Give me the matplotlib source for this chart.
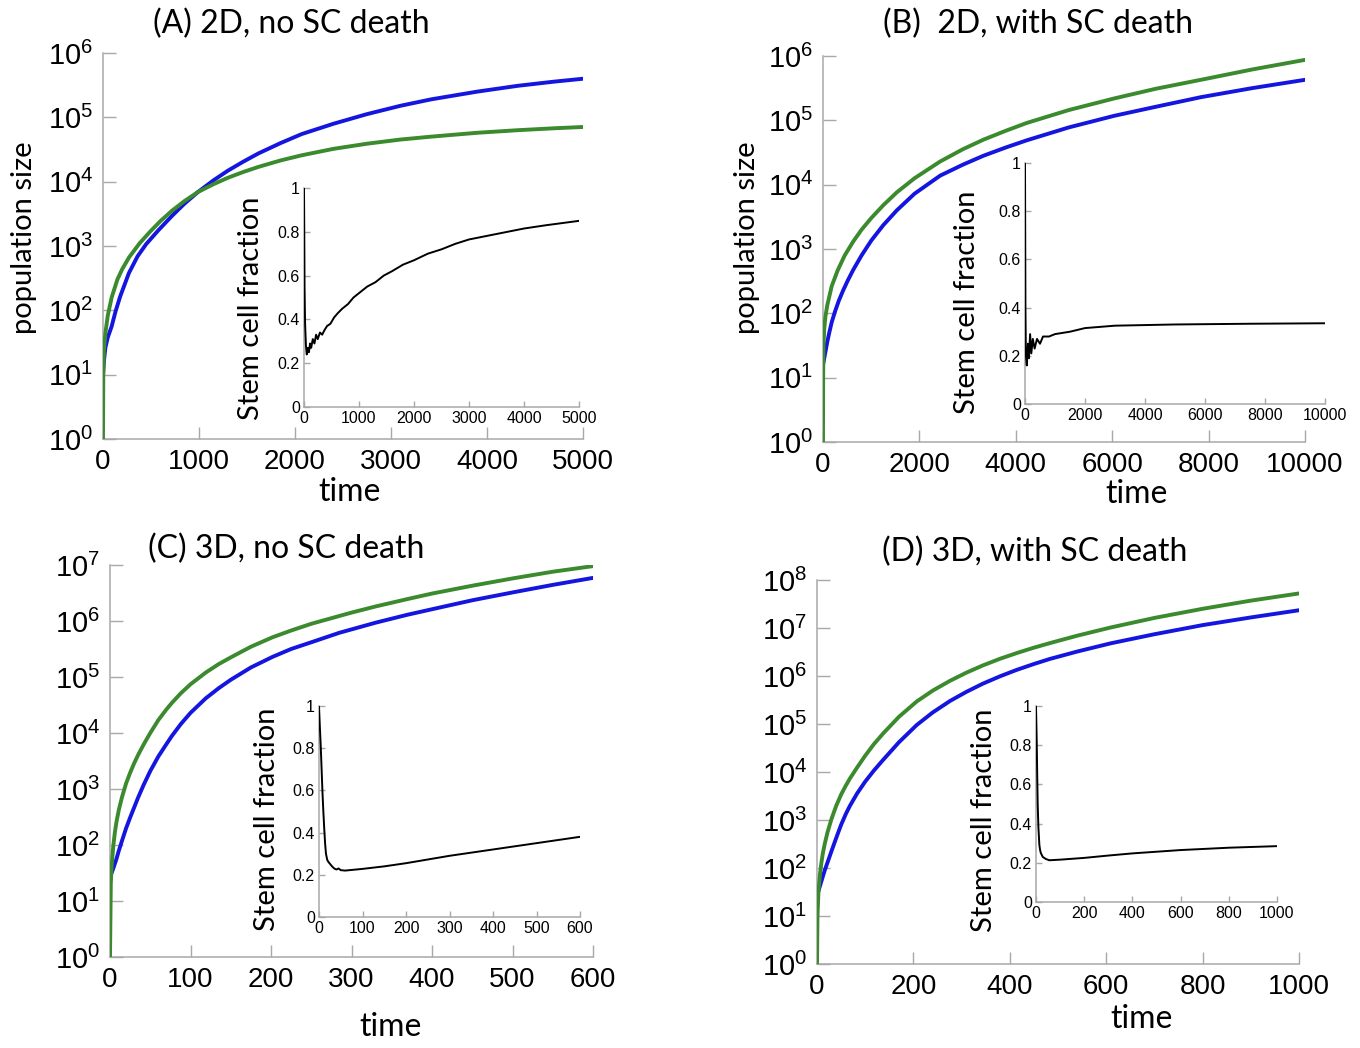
import numpy as np
import matplotlib
matplotlib.use("Agg")
import matplotlib.pyplot as plt
from matplotlib.ticker import FixedLocator, NullLocator, LogFormatterMathtext, FixedFormatter

plt.rcParams['font.family'] = ['Liberation Sans', 'DejaVu Sans']
plt.rcParams['mathtext.fontset'] = 'custom'
plt.rcParams['mathtext.rm'] = 'Liberation Sans'
plt.rcParams['mathtext.it'] = 'Liberation Sans:italic'
plt.rcParams['mathtext.bf'] = 'Liberation Sans:bold'

# ---------------- data ----------------
# Population sizes are given as log10 of the cell count (decades on the log axis).

# (A) 2D, no stem-cell death
a_stem_time = [0, 10, 25, 50, 90, 130, 180, 270, 360, 450, 580, 720, 850, 990, 1150, 1300, 1460,
               1620, 1850, 2070, 2400, 2750, 3100, 3420, 3900, 4320, 4700, 5000]
a_stem_log10 = [1.0, 1.22, 1.42, 1.58, 1.75, 1.98, 2.22, 2.58, 2.84, 3.03, 3.25, 3.47, 3.66, 3.84,
                4.02, 4.17, 4.31, 4.44, 4.6, 4.74, 4.9, 5.05, 5.18, 5.28, 5.4, 5.49, 5.555, 5.6]
a_diff_time = [0, 3, 10, 25, 50, 90, 150, 200, 270, 380, 495, 600, 720, 850, 990, 1150, 1300, 1460,
               1620, 1850, 2070, 2400, 2750, 3100, 3420, 3900, 4320, 4700, 5000]
a_diff_log10 = [0.0, 1.0, 1.38, 1.65, 1.92, 2.2, 2.48, 2.64, 2.82, 3.04, 3.23, 3.39, 3.55, 3.7, 3.84,
                3.96, 4.06, 4.15, 4.23, 4.33, 4.41, 4.51, 4.59, 4.655, 4.70, 4.76, 4.80, 4.83, 4.85]
a_frac_time = [0, 5, 10, 20, 35, 50, 70, 90, 110, 130, 160, 190, 220, 250, 290, 330, 370, 420, 480,
               550, 620, 700, 800, 900, 1000, 1150, 1300, 1450, 1600, 1800, 2000, 2250, 2500, 2750,
               3000, 3300, 3600, 4000, 4400, 4700, 5000]
a_frac = [1.0, 0.8, 0.55, 0.38, 0.28, 0.24, 0.27, 0.25, 0.29, 0.27, 0.31, 0.29, 0.33, 0.31, 0.34,
          0.33, 0.35, 0.37, 0.38, 0.41, 0.43, 0.45, 0.47, 0.50, 0.52, 0.55, 0.57, 0.60, 0.62, 0.65,
          0.67, 0.70, 0.72, 0.745, 0.765, 0.78, 0.795, 0.815, 0.83, 0.84, 0.85]

# (B) 2D, with stem-cell death
b_stem_time = [0, 20, 50, 90, 130, 180, 250, 330, 420, 520, 630, 800, 1000, 1250, 1530, 1900, 2430,
               2900, 3330, 3800, 4230, 5100, 6040, 6900, 7840, 8900, 10000]
b_stem_log10 = [1.2, 1.28, 1.4, 1.56, 1.7, 1.86, 2.03, 2.2, 2.36, 2.52, 2.68, 2.9, 3.13, 3.37, 3.6,
                3.86, 4.14, 4.31, 4.45, 4.58, 4.69, 4.89, 5.07, 5.21, 5.36, 5.5, 5.63]
b_diff_time = [0, 3, 10, 25, 50, 90, 180, 300, 450, 630, 800, 1000, 1250, 1530, 1900, 2430, 2900,
               3330, 3800, 4230, 5100, 6040, 6900, 7840, 8900, 10000]
b_diff_log10 = [0.0, 1.0, 1.5, 1.75, 1.95, 2.13, 2.42, 2.66, 2.9, 3.12, 3.3, 3.48, 3.68, 3.88, 4.1,
                4.36, 4.55, 4.7, 4.84, 4.96, 5.16, 5.34, 5.49, 5.63, 5.79, 5.94]
b_frac_time = [0, 15, 30, 60, 100, 130, 170, 210, 260, 320, 400, 500, 600, 800, 1000, 1500, 2000,
               3000, 5000, 7500, 10000]
b_frac = [1.0, 0.4, 0.2, 0.16, 0.25, 0.19, 0.29, 0.21, 0.27, 0.23, 0.27, 0.25, 0.28, 0.28, 0.29,
          0.30, 0.315, 0.325, 0.33, 0.333, 0.335]

# (C) 3D, no stem-cell death
c_stem_time = [0, 2, 4, 8, 11, 15, 20, 25, 30, 35, 42, 50, 60, 70, 77, 88, 100, 119, 135, 150, 175,
               202, 225, 250, 285, 300, 330, 369, 400, 450, 500, 550, 600]
c_stem_log10 = [1.45, 1.5, 1.58, 1.75, 1.9, 2.08, 2.3, 2.49, 2.67, 2.85, 3.08, 3.32, 3.58, 3.8, 3.95,
                4.16, 4.36, 4.62, 4.8, 4.95, 5.17, 5.36, 5.5, 5.62, 5.79, 5.85, 5.97, 6.11, 6.21,
                6.37, 6.51, 6.645, 6.77]
c_diff_time = [0, 1, 2, 4, 6, 8, 11, 15, 20, 25, 30, 35, 42, 50, 60, 70, 77, 88, 100, 119, 135, 150,
               175, 202, 225, 250, 285, 300, 330, 369, 400, 450, 500, 550, 600]
c_diff_log10 = [0.0, 1.31, 1.61, 1.97, 2.22, 2.41, 2.63, 2.86, 3.10, 3.29, 3.46, 3.61, 3.80, 4.0,
                4.23, 4.42, 4.54, 4.71, 4.87, 5.08, 5.23, 5.35, 5.54, 5.71, 5.83, 5.95, 6.09, 6.15,
                6.26, 6.39, 6.49, 6.63, 6.76, 6.88, 6.98]
c_frac_time = [0, 2, 4, 6, 8, 10, 12, 14, 16, 19, 22, 26, 30, 35, 40, 45, 50, 60, 80, 100, 150, 200,
               300, 400, 500, 600]
c_frac = [1.0, 0.9, 0.81, 0.7, 0.59, 0.5, 0.42, 0.35, 0.30, 0.27, 0.26, 0.25, 0.24, 0.23, 0.225,
          0.23, 0.222, 0.22, 0.224, 0.228, 0.24, 0.255, 0.29, 0.32, 0.35, 0.38]

# (D) 3D, with stem-cell death
d_stem_time = [0, 3, 6, 9, 12, 16, 22, 30, 40, 50, 60, 68, 83, 100, 118, 137, 170, 207, 240, 276,
               310, 344, 380, 415, 450, 483, 540, 609, 700, 800, 900, 1000]
d_stem_log10 = [1.44, 1.52, 1.62, 1.72, 1.82, 1.95, 2.12, 2.35, 2.63, 2.9, 3.13, 3.29, 3.55, 3.8,
                4.03, 4.25, 4.62, 4.98, 5.24, 5.48, 5.67, 5.84, 5.995, 6.13, 6.25, 6.355, 6.51,
                6.68, 6.87, 7.06, 7.22, 7.37]
d_diff_time = [0, 1, 3, 6, 9, 12, 16, 22, 30, 40, 50, 60, 68, 83, 100, 118, 137, 170, 207, 240, 276,
               310, 344, 380, 415, 450, 483, 540, 609, 700, 800, 900, 1000]
d_diff_log10 = [0.0, 1.0, 1.5, 1.85, 2.1, 2.3, 2.5, 2.75, 3.02, 3.30, 3.53, 3.72, 3.86, 4.09, 4.34,
                4.58, 4.8, 5.15, 5.47, 5.695, 5.90, 6.07, 6.22, 6.36, 6.48, 6.59, 6.685, 6.84, 7.01,
                7.21, 7.40, 7.57, 7.72]
d_frac_time = [0, 2, 3, 5, 7, 10, 14, 17, 20, 28, 40, 55, 70, 100, 200, 300, 400, 600, 800, 1000]
d_frac = [1.0, 0.88, 0.82, 0.65, 0.5, 0.38, 0.29, 0.265, 0.25, 0.23, 0.22, 0.213, 0.214, 0.216,
          0.225, 0.237, 0.248, 0.265, 0.277, 0.285]

titles = ["(A) 2D, no SC death", "(B)  2D, with SC death", "(C) 3D, no SC death", "(D) 3D, with SC death"]
x_ticks = [[0, 1000, 2000, 3000, 4000, 5000],
           [0, 2000, 4000, 6000, 8000, 10000],
           [0, 100, 200, 300, 400, 500, 600],
           [0, 200, 400, 600, 800, 1000]]
y_decades = [6, 6, 7, 8]
frac_ticks = [0, 0.2, 0.4, 0.6, 0.8, 1]
frac_tick_labels = ["0", "0.2", "0.4", "0.6", "0.8", "1"]

# ---------------- layout (pixel boxes: left, top, right, bottom) ----------------
W, H = 1360, 1048
main_boxes = [(103, 53, 583, 439), (823, 56, 1305, 442), (110, 565, 593, 957), (817, 580, 1299, 964)]
inset_boxes = [(304, 188, 579, 407), (1025, 163, 1325, 404), (319, 706, 580, 917), (1036, 706, 1277, 902)]
title_pos = [(291, 24), (1038, 24), (286, 549), (1035, 552)]
time_pos = [(350, 492), (1137, 494), (391, 1027), (1142, 1019)]
popsize_pos = [(24, 238), (747, 238)]
frac_label_pos = [(251, 308), (967, 302), (267, 819), (984, 820)]

STEM_COLOR = "#1515e0"
DIFF_COLOR = "#3b8a2e"
SPINE = "#a8a8a8"
LABEL_FONT = ["Lato", "DejaVu Sans"]


def fig_rect(box):
    l, t, r, b = box
    return [l / W, 1 - b / H, (r - l) / W, (b - t) / H]


def fig_xy(p):
    return p[0] / W, 1 - p[1] / H


def style_axes(ax, tick_len, xsize, ysize, pad):
    for side in ("top", "right"):
        ax.spines[side].set_visible(False)
    for side in ("left", "bottom"):
        ax.spines[side].set_color(SPINE)
        ax.spines[side].set_linewidth(1.1)
    ax.tick_params(direction="in", length=tick_len, width=1.0, color=SPINE,
                   pad=pad, labelcolor="black")
    ax.tick_params(axis="x", labelsize=xsize)
    ax.tick_params(axis="y", labelsize=ysize)
    ax.set_facecolor("none")


fig = plt.figure(figsize=(W / 100, H / 100), dpi=100)

panels = [
    (a_stem_time, a_stem_log10, a_diff_time, a_diff_log10, a_frac_time, a_frac),
    (b_stem_time, b_stem_log10, b_diff_time, b_diff_log10, b_frac_time, b_frac),
    (c_stem_time, c_stem_log10, c_diff_time, c_diff_log10, c_frac_time, c_frac),
    (d_stem_time, d_stem_log10, d_diff_time, d_diff_log10, d_frac_time, d_frac),
]

for i, (ts, stem, td, diff, ft, frac) in enumerate(panels):
    ax = fig.add_axes(fig_rect(main_boxes[i]))
    ax.set_yscale("log")
    ax.plot(ts, 10.0 ** np.asarray(stem), color=STEM_COLOR, lw=2.8,
            solid_capstyle="round", solid_joinstyle="round", zorder=3)
    ax.plot(td, 10.0 ** np.asarray(diff), color=DIFF_COLOR, lw=2.8,
            solid_capstyle="round", solid_joinstyle="round", zorder=3)
    ax.set_xlim(0, x_ticks[i][-1])
    ax.set_ylim(1, 10 ** y_decades[i])
    ax.xaxis.set_major_locator(FixedLocator(x_ticks[i]))
    ax.xaxis.set_minor_locator(NullLocator())
    ax.yaxis.set_major_locator(FixedLocator([10 ** k for k in range(y_decades[i] + 1)]))
    ax.yaxis.set_minor_locator(NullLocator())
    ax.yaxis.set_major_formatter(LogFormatterMathtext())
    style_axes(ax, 9, 20, 21, 7)

    ins = fig.add_axes(fig_rect(inset_boxes[i]))
    ins.plot(ft, frac, color="black", lw=1.4, solid_joinstyle="round", zorder=3)
    ins.set_xlim(0, x_ticks[i][-1])
    ins.set_ylim(0, 1)
    ins.xaxis.set_major_locator(FixedLocator(x_ticks[i]))
    ins.yaxis.set_major_locator(FixedLocator(frac_ticks))
    ins.yaxis.set_major_formatter(FixedFormatter(frac_tick_labels))
    style_axes(ins, 4, 11.5, 11.5, 3)

    x, y = fig_xy(title_pos[i])
    fig.text(x, y, titles[i], ha="center", va="center", fontsize=23, family=LABEL_FONT)
    x, y = fig_xy(time_pos[i])
    fig.text(x, y, "time", ha="center", va="center", fontsize=23, family=LABEL_FONT)
    x, y = fig_xy(frac_label_pos[i])
    fig.text(x, y, "Stem cell fraction", ha="center", va="center", rotation=90,
             fontsize=21, family=LABEL_FONT)

for p in popsize_pos:
    x, y = fig_xy(p)
    fig.text(x, y, "population size", ha="center", va="center", rotation=90,
             fontsize=21, family=LABEL_FONT)

fig.savefig("out.png", dpi=100)
